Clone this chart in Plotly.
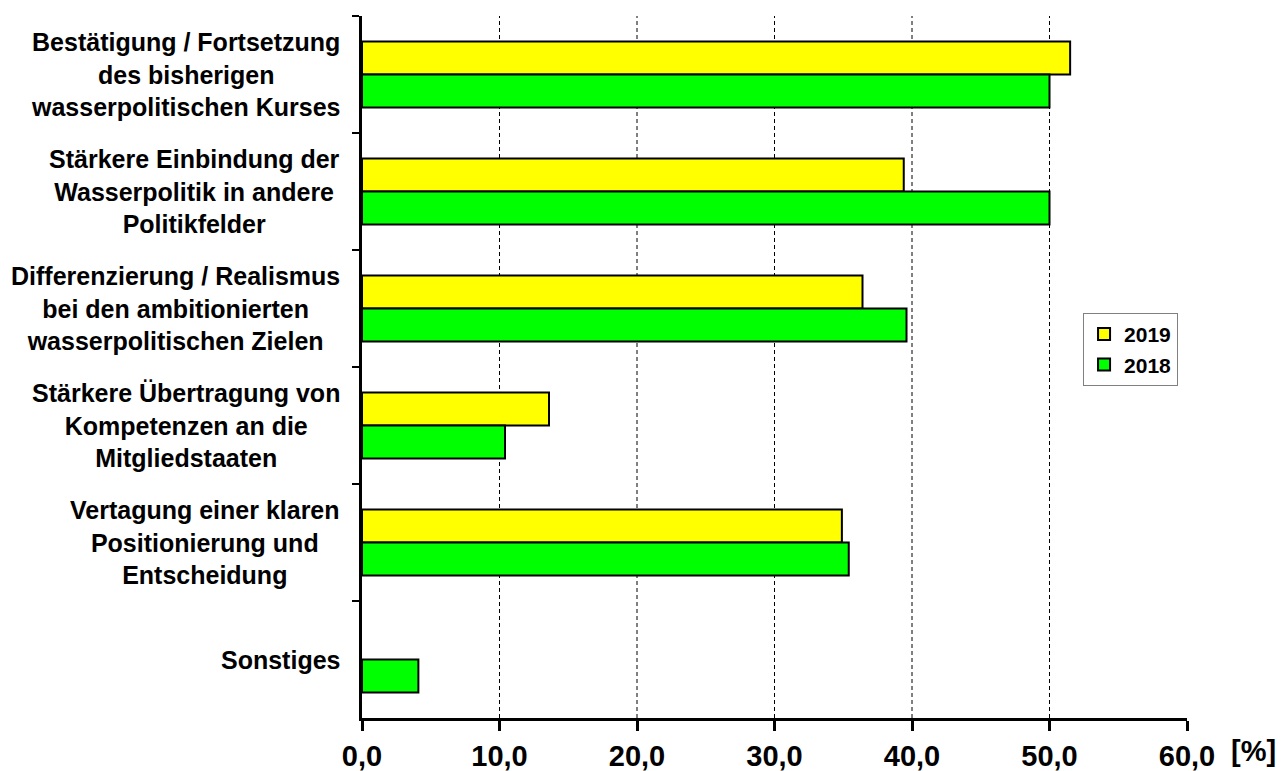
import plotly.graph_objects as go

# Survey categories (top to bottom) and shares in percent
categories = [
    "Bestätigung / Fortsetzung<br>des bisherigen<br>wasserpolitischen Kurses",
    "Stärkere Einbindung der<br>Wasserpolitik in andere<br>Politikfelder",
    "Differenzierung / Realismus<br>bei den ambitionierten<br>wasserpolitischen Zielen",
    "Stärkere Übertragung von<br>Kompetenzen an die<br>Mitgliedstaaten",
    "Vertagung einer klaren<br>Positionierung und<br>Entscheidung",
    "Sonstiges",
]
values_2019 = [51.5, 39.4, 36.4, 13.6, 34.9, None]
values_2018 = [50.0, 50.0, 39.6, 10.4, 35.4, 4.1]
x_ticks = [0, 10, 20, 30, 40, 50, 60]

FONT = "Liberation Sans, Arial, sans-serif"

fig = go.Figure()
fig.add_trace(go.Bar(
    name="2019", y=categories, x=values_2019, orientation="h",
    marker=dict(color="#FFFF00", line=dict(color="#000000", width=2)),
))
fig.add_trace(go.Bar(
    name="2018", y=categories, x=values_2018, orientation="h",
    marker=dict(color="#00FF00", line=dict(color="#000000", width=2)),
))

# dashed vertical gridlines at the inner ticks
shapes = [
    dict(type="line", xref="x", yref="paper", x0=t, x1=t, y0=0, y1=1,
         line=dict(color="#000000", width=1, dash="4px,3px"), layer="below")
    for t in x_ticks[1:-1]
]

# category labels: centered lines, block right-aligned next to the axis
annotations = [
    dict(text=f"<b>{c}</b>", xref="paper", yref="y", x=0, y=c,
         xanchor="right", yanchor="middle", xshift=-20, align="center",
         showarrow=False, font=dict(family=FONT, size=25, color="#000000"))
    for c in categories
]
annotations.append(dict(
    text="<b>[%]</b>", xref="paper", yref="paper", x=1, y=0,
    xanchor="left", yanchor="top", xshift=42, yshift=-15,
    showarrow=False, font=dict(family=FONT, size=29, color="#000000"),
))

fig.update_layout(
    width=1282, height=771,
    margin=dict(l=362, r=95, t=16, b=53, autoexpand=False),
    paper_bgcolor="#FFFFFF", plot_bgcolor="#FFFFFF",
    barmode="group", bargap=0.436, bargroupgap=0,
    font=dict(family=FONT, color="#000000"),
    separators=",.",
    showlegend=True,
    legend=dict(
        x=0.874, y=0.577, xanchor="left", yanchor="top",
        bgcolor="#FFFFFF", bordercolor="#808080", borderwidth=1,
        font=dict(family=FONT, size=21, color="#000000", weight="bold"),
        traceorder="normal", itemwidth=30,
    ),
    shapes=shapes,
    annotations=annotations,
)

fig.update_xaxes(
    range=[0, 60], tickvals=x_ticks, tickformat=".1f",
    showgrid=False, zeroline=False, automargin=False,
    showline=True, linecolor="#000000", linewidth=3,
    ticks="outside", ticklen=10, tickwidth=3, tickcolor="#000000",
    tickfont=dict(family=FONT, size=29, color="#000000", weight="bold"),
)
fig.update_yaxes(
    autorange="reversed", type="category", automargin=False,
    showticklabels=False, showgrid=False, zeroline=False,
    showline=True, linecolor="#000000", linewidth=3,
    ticks="outside", tickson="boundaries", ticklen=7, tickwidth=2,
    tickcolor="#000000",
)

fig.write_html("out.html")
